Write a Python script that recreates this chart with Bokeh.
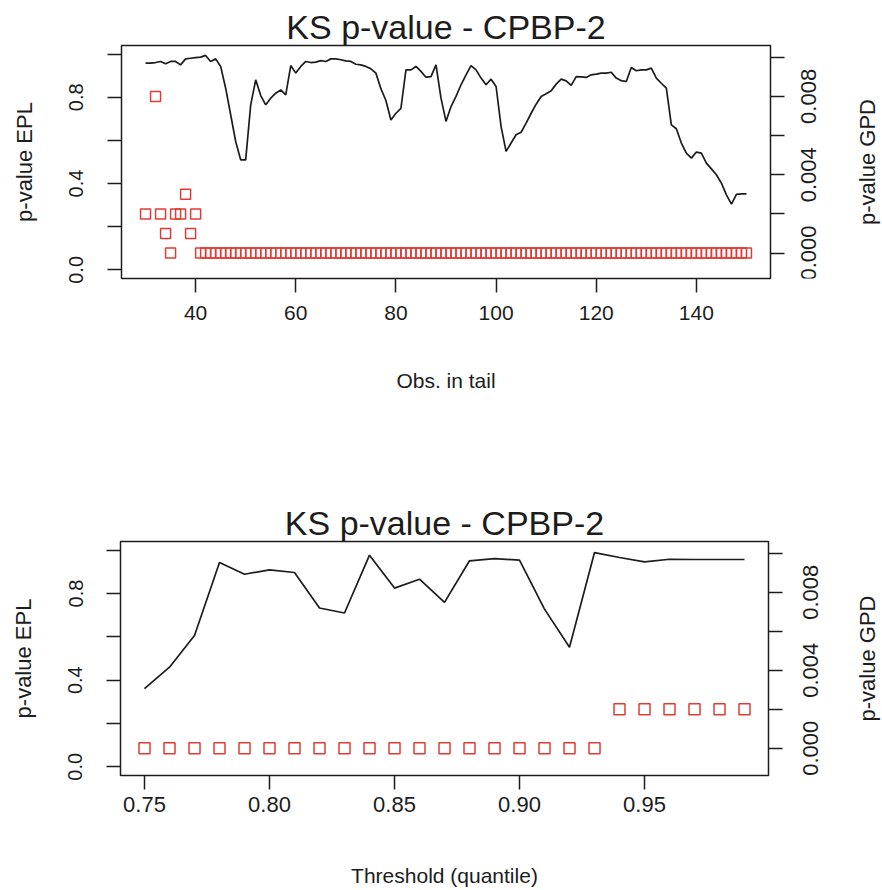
import math
from bokeh.plotting import figure
from bokeh.models import Range1d, LinearAxis, FixedTicker, CustomJSTickFormatter
from bokeh.core.properties import value
from bokeh.layouts import column, row
from bokeh.embed import file_html
from bokeh.resources import INLINE

# ---------------- data ----------------
TITLE = "KS p-value - CPBP-2"

# top panel: observations in tail
obs_tail = list(range(30, 151))
epl_obs = [
    0.958, 0.958, 0.961, 0.966, 0.955, 0.966, 0.966, 0.950, 0.978, 0.981,   # 30-39
    0.984, 0.986, 0.994, 0.966, 0.978, 0.943, 0.842, 0.719, 0.595, 0.510,   # 40-49
    0.510, 0.765, 0.881, 0.808, 0.765, 0.796, 0.819, 0.834, 0.811, 0.947,   # 50-59
    0.912, 0.943, 0.966, 0.961, 0.963, 0.970, 0.966, 0.978, 0.978, 0.974,   # 60-69
    0.969, 0.966, 0.953, 0.950, 0.943, 0.932, 0.912, 0.840, 0.785, 0.695,   # 70-79
    0.726, 0.749, 0.927, 0.927, 0.943, 0.920, 0.893, 0.896, 0.950, 0.796,   # 80-89
    0.688, 0.757, 0.804, 0.858, 0.904, 0.947, 0.927, 0.889, 0.858, 0.884,   # 90-99
    0.850, 0.664, 0.549, 0.588, 0.626, 0.638, 0.680, 0.726, 0.768, 0.804,   # 100-109
    0.816, 0.830, 0.861, 0.884, 0.876, 0.855, 0.896, 0.895, 0.892, 0.904,   # 110-119
    0.907, 0.912, 0.912, 0.916, 0.889, 0.877, 0.873, 0.938, 0.923, 0.927,   # 120-129
    0.927, 0.935, 0.889, 0.865, 0.842, 0.672, 0.654, 0.588, 0.541, 0.518,   # 130-139
    0.546, 0.541, 0.495, 0.468, 0.441, 0.402, 0.348, 0.305, 0.350, 0.352,   # 140-149
    0.352,                                                                  # 150
]
nan = float("nan")
gpd_obs = [
    0.002, nan, 0.008, 0.002, 0.001, 0.000, 0.002, 0.002, 0.003, 0.001,     # 30-39
    0.002, 0, 0, 0, 0, 0, 0, 0, 0, 0,                                       # 40-49
    0, 0, 0, 0, 0, 0, 0, 0, 0, 0,                                           # 50-59
    0, 0, 0, 0, 0, 0, 0, 0, 0, 0,                                           # 60-69
    0, 0, 0, 0, 0, 0, 0, 0, 0, 0,                                           # 70-79
    0, 0, 0, 0, 0, 0, 0, 0, 0, 0,                                           # 80-89
    0, 0, 0, 0, 0, 0, 0, 0, 0, 0,                                           # 90-99
    0, 0, 0, 0, 0, 0, 0, 0, 0, 0,                                           # 100-109
    0, 0, 0, 0, 0, 0, 0, 0, 0, 0,                                           # 110-119
    0, 0, 0, 0, 0, 0, 0, 0, 0, 0,                                           # 120-129
    0, 0, 0, 0, 0, 0, 0, 0, 0, 0,                                           # 130-139
    0, 0, 0, 0, 0, 0, 0, 0, 0, 0,                                           # 140-149
    0,                                                                      # 150
]

# bottom panel: threshold quantile
quantile = [0.75, 0.76, 0.77, 0.78, 0.79, 0.80, 0.81, 0.82, 0.83, 0.84,
            0.85, 0.86, 0.87, 0.88, 0.89, 0.90, 0.91, 0.92, 0.93, 0.94,
            0.95, 0.96, 0.97, 0.98, 0.99]
epl_q = [0.361, 0.460, 0.606, 0.943, 0.889, 0.909, 0.897, 0.733, 0.710, 0.977,
         0.825, 0.866, 0.759, 0.951, 0.961, 0.954, 0.728, 0.552, 0.989, 0.966,
         0.946, 0.958, 0.957, 0.957, 0.957]
gpd_q = [0.000, 0.000, 0.000, 0.000, 0.000, 0.000, 0.000, 0.000, 0.000, 0.000,
         0.000, 0.000, 0.000, 0.000, 0.000, 0.000, 0.000, 0.000, 0.000, 0.002,
         0.002, 0.002, 0.002, 0.002, 0.002]

# ticks and labels
epl_ticks = [0.0, 0.2, 0.4, 0.6, 0.8, 1.0]
epl_labels = ["0.0", "", "0.4", "", "0.8", ""]
gpd_ticks = [0.0, 0.002, 0.004, 0.006, 0.008, 0.010]
gpd_labels = ["0.000", "", "0.004", "", "0.008", ""]
obs_ticks = [40, 60, 80, 100, 120, 140]
obs_labels = ["40", "60", "80", "100", "120", "140"]
q_ticks = [0.75, 0.80, 0.85, 0.90, 0.95]
q_labels = ["0.75", "0.80", "0.85", "0.90", "0.95"]

FONT = "Liberation Sans"
RED = "#e23b34"
INK = "#1c1c1c"


def fmt(tick_values, tick_texts):
    return CustomJSTickFormatter(
        args=dict(tv=tick_values, tl=tick_texts),
        code="for (let i = 0; i < tv.length; i++) {"
             " if (Math.abs(tick - tv[i]) < 1e-9) return tl[i]; }"
             " return '';")


def style(ax, tick_font, label_font, tick_standoff, label_standoff):
    ax.axis_line_color = None
    ax.major_tick_in = 0
    ax.major_tick_out = 14
    ax.major_tick_line_width = 1.5
    ax.major_tick_line_color = INK
    ax.minor_tick_line_color = None
    ax.major_label_text_font = FONT
    ax.major_label_text_font_size = tick_font
    ax.major_label_text_color = INK
    ax.major_label_standoff = tick_standoff
    ax.axis_label_text_font = FONT
    ax.axis_label_text_font_size = label_font
    ax.axis_label_text_font_style = "normal"
    ax.axis_label_text_color = INK
    ax.axis_label_standoff = label_standoff


def make_panel(x, epl, gpd, xr, gpd_range, xticks, xlabels, xlabel,
               borders, main_width, sq_size, xtick_font, xlabel_standoff,
               xtick_standoff, side_tick_x, side_label_x):
    top, bottom, left, right = borders
    p = figure(width=main_width, height=445, output_backend="svg",
               toolbar_location=None,
               x_range=xr, y_range=Range1d(-0.04, 1.04),
               min_border_top=top, min_border_bottom=bottom,
               min_border_left=left, min_border_right=right,
               title=TITLE)
    p.grid.visible = False
    p.outline_line_color = INK
    p.outline_line_width = 1.5
    p.background_fill_color = "white"
    p.border_fill_color = "white"
    p.title.align = "center"
    p.title.text_font = FONT
    p.title.text_font_size = "34px"
    p.title.text_font_style = "normal"
    p.title.text_color = INK
    p.title.standoff = 0

    p.extra_y_ranges = {"gpd": gpd_range}

    xa = p.xaxis[0]
    xa.ticker = FixedTicker(ticks=xticks)
    xa.formatter = fmt(xticks, xlabels)
    xa.axis_label = xlabel
    style(xa, xtick_font, "21px", xtick_standoff, xlabel_standoff)

    ya = p.yaxis[0]
    ya.ticker = FixedTicker(ticks=epl_ticks)
    ya.formatter = fmt(epl_ticks, epl_labels)
    ya.axis_label = "p-value EPL"
    ya.major_label_orientation = "vertical"
    style(ya, "20px", "22px", 24, 30)

    # right axis: tick marks only; its texts go in the side strip
    ra = LinearAxis(y_range_name="gpd")
    ra.ticker = FixedTicker(ticks=gpd_ticks)
    ra.formatter = fmt(gpd_ticks, ["" for _ in gpd_ticks])
    style(ra, "1px", "1px", 0, 0)
    p.add_layout(ra, "right")

    p.line(x, epl, line_color=INK, line_width=1.7)
    p.scatter(x, gpd, y_range_name="gpd", marker="square", size=sq_size,
              fill_color=None, line_color=RED, line_width=1.5)

    # side strip holding the right-hand (GPD) texts, read bottom to top
    side_w = 882 - main_width
    s = figure(width=side_w, height=445, output_backend="svg",
               toolbar_location=None, x_axis_type=None, y_axis_type=None,
               x_range=Range1d(0, side_w), y_range=gpd_range,
               min_border_top=top, min_border_bottom=bottom,
               min_border_left=0, min_border_right=0)
    s.grid.visible = False
    s.outline_line_color = None
    s.background_fill_color = "white"
    s.border_fill_color = "white"
    shown = [(tv, tl) for tv, tl in zip(gpd_ticks, gpd_labels) if tl]
    s.text(x=[side_tick_x] * len(shown), y=[tv for tv, _ in shown],
           text=[tl for _, tl in shown], angle=math.pi / 2,
           text_align="center", text_baseline="middle",
           text_font=value(FONT), text_font_size="22px", text_color=INK)
    s.text(x=[side_label_x], y=[(gpd_range.start + gpd_range.end) / 2],
           text=["p-value GPD"], angle=math.pi / 2,
           text_align="center", text_baseline="middle",
           text_font=value(FONT), text_font_size="22px", text_color=INK)
    return row(p, s, spacing=0)


top_row = make_panel(obs_tail, epl_obs, gpd_obs, Range1d(25.2, 154.8),
                     Range1d(-0.0013, 0.0106), obs_ticks, obs_labels,
                     "Obs. in tail", (45, 167, 121, 17), 787, 10, "21px", 46, 13,
                     21, 80)
bottom_row = make_panel(quantile, epl_q, gpd_q, Range1d(0.7404, 0.9996),
                        Range1d(-0.0014, 0.0106), q_ticks, q_labels,
                        "Threshold (quantile)", (96, 115, 120, 17), 785, 11,
                        "22px", 49, 7, 25, 82)

layout = column(top_row, bottom_row, spacing=0)
open("out.html", "w").write(file_html(layout, INLINE))
